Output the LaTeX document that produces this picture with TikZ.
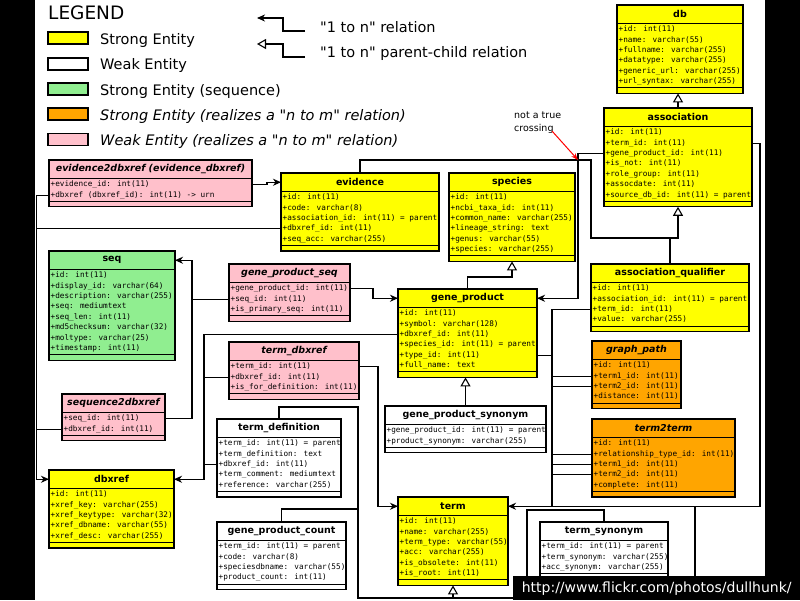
\documentclass[tikz,border=0pt]{standalone}
\usepackage{fontspec}
\setmainfont{DejaVu Sans}[Ligatures=TeXOff]
\newfontfamily\erMono{DejaVu Sans Mono}
\usetikzlibrary{arrows.meta}
\definecolor{eryellow}{RGB}{255,255,0}
\definecolor{erpink}{RGB}{255,192,203}
\definecolor{ergreen}{RGB}{144,238,144}
\definecolor{erorange}{RGB}{255,165,0}
\catcode`\_=12
\tikzset{
  erbox/.style={draw=black, line width=1.3pt, inner sep=0pt, outer sep=0pt},
  erline/.style={draw=black, line width=1.1pt},
  ertitle/.style={font=\bfseries\fontsize{9.5}{11}\selectfont, inner sep=0pt},
  erfield/.style={font=\erMono\fontsize{7.7}{9}\selectfont, anchor=west, inner sep=0pt, text height=5.4pt, text depth=1.4pt},
  conn/.style={draw=black, line width=1.1pt},
  fillarrow/.style={-{Stealth[length=8pt,width=7pt,inset=2.5pt]}},
  triarrow/.style={-{Triangle[open,length=9pt,width=10pt,fill=white,line width=1.1pt]}},
  lgbox/.style={draw=black, line width=1.2pt, minimum width=40pt, minimum height=12pt, inner sep=0pt},
  lgtext/.style={font=\fontsize{14.5}{16}\selectfont, anchor=base west, inner sep=0pt},
  notetext/.style={font=\fontsize{9.5}{12.5}\selectfont, align=left, anchor=north west, inner sep=0pt},
}
\newcommand{\erent}[8]{%
  \pgfmathsetmacro{\ew}{#3-#2}%
  \pgfmathsetmacro{\eh}{26+#5*10.4}%
  \node[erbox, fill=#6, minimum width=\ew pt, minimum height=\eh pt, anchor=north west] (#1) at (#2,#4) {};
  \draw[erline] (#2,{#4+18.5}) -- (#3,{#4+18.5});
  \draw[erline] (#2,{#4+20.5+#5*10.4}) -- (#3,{#4+20.5+#5*10.4});
  \node[ertitle] (#1-t) at ({(#2+#3)/2},{#4+9.25}) {#7};
  \foreach \f [count=\i] in {#8} {\node[erfield] (#1-\i) at ({#2+1.5},{#4+24.7+(\i-1)*10.4}) {\f};}
}
\begin{document}
\begin{tikzpicture}[x=1pt,y=-1pt]
\useasboundingbox (0,0) rectangle (800,600);
\fill[white] (0,0) rectangle (800,600);
\fill[black] (0,0) rectangle (35,600);
\fill[black] (765,0) rectangle (800,600);

% legend
\node[font=\fontsize{18.5}{20}\selectfont, anchor=base west, inner sep=0pt] (lgtitle) at (48,19) {LEGEND};
\node[lgbox, fill=eryellow] (lg1) at (68,38) {};
\node[lgbox, fill=white] (lg2) at (68,64) {};
\node[lgbox, fill=ergreen] (lg3) at (68,89) {};
\node[lgbox, fill=erorange] (lg4) at (68,114) {};
\node[lgbox, fill=erpink] (lg5) at (68,139.5) {};
\node[lgtext] (lt1) at (100,44) {Strong Entity};
\node[lgtext] (lt2) at (100,69.5) {Weak Entity};
\node[lgtext] (lt3) at (100,95) {Strong Entity (sequence)};
\node[lgtext] (lt4) at (100,120) {\itshape Strong Entity (realizes a "n to m" relation)};
\node[lgtext] (lt5) at (100,145.5) {\itshape Weak Entity (realizes a "n to m" relation)};
\node[lgtext] (lr1) at (320,32) {"1 to n" relation};
\node[lgtext] (lr2) at (320,57) {"1 to n" parent-child relation};
\coordinate (la1) at (305,31);
\coordinate (la2) at (257,18);
\coordinate (lb1) at (305,57);
\coordinate (lb2) at (257,44);
\draw[conn, fillarrow] (la1) -- (283,31) |- (la2);
\draw[conn, triarrow] (lb1) -- (283,57) |- (lb2);

% entities
\erent{db}{617}{743}{5}{6}{eryellow}{db}{+id: int(11),+name: varchar(55),+fullname: varchar(255),+datatype: varchar(255),+generic_url: varchar(255),+url_syntax: varchar(255)}
\erent{assoc}{604}{752}{108}{7}{eryellow}{association}{+id: int(11),+term_id: int(11),+gene_product_id: int(11),+is_not: int(11),+role_group: int(11),+assocdate: int(11),+source_db_id: int(11) = parent}
\erent{evtwo}{49}{252}{160}{2}{erpink}{\itshape evidence2dbxref (evidence_dbxref)}{+evidence_id: int(11),+dbxref (dbxref_id): int(11) -> urn}
\erent{evid}{281}{439}{173}{5}{eryellow}{evidence}{+id: int(11),+code: varchar(8),+association_id: int(11) = parent,+dbxref_id: int(11),+seq_acc: varchar(255)}
\erent{spec}{449}{575}{173}{6}{eryellow}{species}{+id: int(11),+ncbi_taxa_id: int(11),+common_name: varchar(255),+lineage_string: text,+genus: varchar(55),+species: varchar(255)}
\erent{seq}{49}{175}{251}{8}{ergreen}{seq}{+id: int(11),+display_id: varchar(64),+description: varchar(255),+seq: mediumtext,+seq_len: int(11),+md5checksum: varchar(32),+moltype: varchar(25),+timestamp: int(11)}
\erent{gpseq}{229}{350}{264}{3}{erpink}{\itshape gene_product_seq}{+gene_product_id: int(11),+seq_id: int(11),+is_primary_seq: int(11)}
\erent{tdbx}{229}{359}{342}{3}{erpink}{\itshape term_dbxref}{+term_id: int(11),+dbxref_id: int(11),+is_for_definition: int(11)}
\erent{gp}{398}{537}{289}{6}{eryellow}{gene_product}{+id: int(11),+symbol: varchar(128),+dbxref_id: int(11),+species_id: int(11) = parent,+type_id: int(11),+full_name: text}
\erent{aq}{591}{749}{264}{4}{eryellow}{association_qualifier}{+id: int(11),+association_id: int(11) = parent,+term_id: int(11),+value: varchar(255)}
\erent{gpath}{592}{681}{341}{4}{erorange}{\itshape graph_path}{+id: int(11),+term1_id: int(11),+term2_id: int(11),+distance: int(11)}
\erent{sqtwo}{62}{165}{394}{2}{erpink}{\itshape sequence2dbxref}{+seq_id: int(11),+dbxref_id: int(11)}
\erent{tdef}{217}{341}{419}{5}{white}{term_definition}{+term_id: int(11) = parent,+term_definition: text,+dbxref_id: int(11),+term_comment: mediumtext,+reference: varchar(255)}
\erent{dbx}{49}{174}{470}{5}{eryellow}{dbxref}{+id: int(11),+xref_key: varchar(255),+xref_keytype: varchar(32),+xref_dbname: varchar(55),+xref_desc: varchar(255)}
\erent{gpc}{217}{346}{522}{4}{white}{gene_product_count}{+term_id: int(11) = parent,+code: varchar(8),+speciesdbname: varchar(55),+product_count: int(11)}
\erent{gpsyn}{385}{546}{406}{2}{white}{gene_product_synonym}{+gene_product_id: int(11) = parent,+product_synonym: varchar(255)}
\erent{ttt}{592}{735}{419}{5}{erorange}{\itshape term2term}{+id: int(11),+relationship_type_id: int(11),+term1_id: int(11),+term2_id: int(11),+complete: int(11)}
\erent{term}{398}{508}{497}{6}{eryellow}{term}{+id: int(11),+name: varchar(255),+term_type: varchar(55),+acc: varchar(255),+is_obsolete: int(11),+is_root: int(11)}
\erent{tsyn}{540}{668}{522}{3}{white}{term_synonym}{+term_id: int(11) = parent,+term_synonym: varchar(255),+acc_synonym: varchar(255)}

% bus coordinates
\coordinate (busL) at (36.5,0);
\coordinate (busS) at (192,0);
\coordinate (busD) at (204,0);
\coordinate (cE) at (267,0);
\coordinate (cG) at (373,0);
\coordinate (cTD) at (378,0);
\coordinate (busT) at (552,0);
\coordinate (cX) at (578,0);
\coordinate (cR) at (760,0);
\coordinate (cA) at (591,160);
\coordinate (cB) at (591,238);
\coordinate (tcA) at (358,407);
\coordinate (tcB) at (358,598);
\coordinate (tcC) at (358,509);
\coordinate (tsA) at (527,510);
\coordinate (cH1) at (695,506.25);
\coordinate (cH2) at (695,600);

% connectors
\draw[conn, fillarrow] (evtwo.east |- evtwo-1) -| (cE |- evid-t) -- (evid.west |- evid-t);
\draw[conn, fillarrow] (evtwo.west |- evtwo-2) -| (busL |- dbx-t) -- (dbx.west |- dbx-t);
\draw[conn] (evid.west |- evid-4) -- (busL |- evid-4);
\draw[conn] (sqtwo.west |- sqtwo-2) -- (busL |- sqtwo-2);
\draw[conn, fillarrow] (gpseq.west |- gpseq-2) -| (busS |- seq-t) -- (seq.east |- seq-t);
\draw[conn] (sqtwo.east |- sqtwo-1) -| (busS |- gpseq-2);
\draw[conn, fillarrow] (gpseq.east |- gpseq-1) -| (cG |- gp-t) -- (gp.west |- gp-t);
\draw[conn, fillarrow] (gp.west |- gp-3) -| (busD |- dbx-t) -- (dbx.east |- dbx-t);
\draw[conn] (tdbx.west |- tdbx-2) -- (busD |- tdbx-2);
\draw[conn] (tdef.west |- tdef-3) -- (busD |- tdef-3);
\draw[conn, fillarrow] (tdbx.east |- tdbx-1) -| (cTD |- term-t) -- (term.west |- term-t);
\draw[conn, fillarrow] (assoc.east |- assoc-2) -| (cR |- term-t) -- (term.east |- term-t);
\draw[conn] (aq.west |- aq-3) -| (busT |- term-t);
\draw[conn] (gp.east |- gp-5) -- (busT |- gp-5);
\draw[conn] (gpath.west |- gpath-2) -- (busT |- gpath-2);
\draw[conn] (gpath.west |- gpath-3) -- (busT |- gpath-3);
\draw[conn] (ttt.west |- ttt-2) -- (busT |- ttt-2);
\draw[conn] (ttt.west |- ttt-3) -- (busT |- ttt-3);
\draw[conn] (ttt.west |- ttt-4) -- (busT |- ttt-4);
\draw[conn, fillarrow] (assoc.west |- assoc-3) -| (cX |- gp-t) -- (gp.east |- gp-t);
\draw[conn, triarrow] (evid.north) |- (cA) -- (cB) -| (assoc.south);
\draw[conn] (aq.north) -- (aq.north |- cB);
\draw[conn, triarrow] (assoc.north) -- (assoc.north |- db.south);
\draw[conn, triarrow] (gp.north) -- ++(0,-12) -| (spec.south);
\draw[conn, triarrow] (gpsyn.north) -- (gpsyn.north |- gp.south);
\draw[conn, triarrow] (tdef.north) |- (tcA) -- (tcB) -| (term.south);
\draw[conn] (gpc.north) |- (tcC);
\draw[conn] (tsyn.north) |- (tsA) |- (term.south |- tcB);
\draw[conn] (cH1) -- (cH2);

% note
\node[notetext] (note) at (514,112) {not a true\\crossing};
\coordinate (noteptr) at (552,131);
\draw[red, line width=1pt, -{Stealth[length=7pt,width=5pt]}] (noteptr) -- (cX |- cA);

% url
\node[fill=black, text=white, minimum width=287pt, minimum height=24pt, inner sep=0pt, anchor=north west, font=\fontsize{14}{16}\selectfont] (url) at (513,576) {http://www.flickr.com/photos/dullhunk/};
\end{tikzpicture}
\end{document}
